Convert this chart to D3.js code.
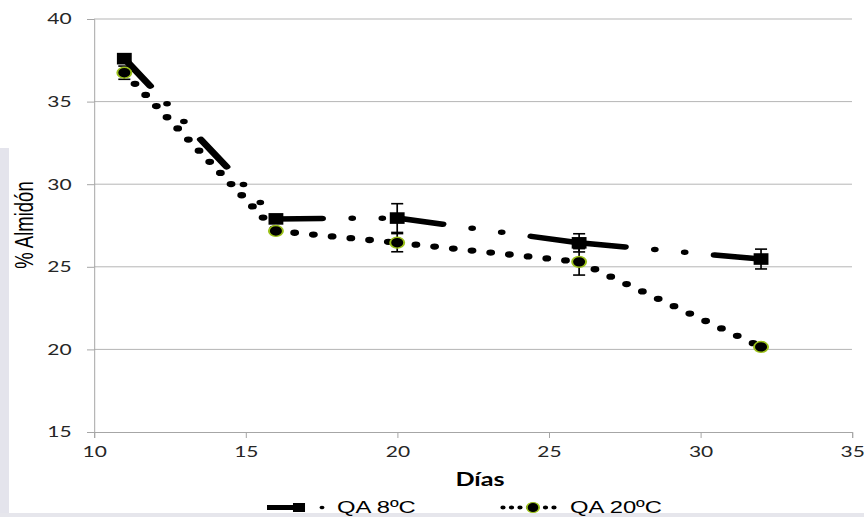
<!DOCTYPE html>
<html>
<head>
<meta charset="utf-8">
<script src="https://cdn.jsdelivr.net/npm/d3@7"></script>
<style>
  body { margin: 0; background: #fff; overflow: hidden; }
  svg { display: block; }
  .tick text { font-family: Lato, "Noto Sans", sans-serif; font-size: 15px; fill: #262626; }
</style>
</head>
<body>
<div class="chart"></div>
<script>
// data
var dias = [11, 16, 20, 26, 32];
var qa8 = [37.6, 27.9, 27.95, 26.45, 25.47];
var qa8Err = [0, 0, 0.87, 0.55, 0.6];
var qa20 = [36.75, 27.17, 26.46, 25.3, 20.15];
var qa20Err = [0.4, 0, 0.55, 0.8, 0];
var xTicks = [10, 15, 20, 25, 30, 35];
var yTicks = [15, 20, 25, 30, 35, 40];
var seriesNames = ["QA 8ºC", "QA 20ºC"];

// the picture is stretched sideways, so draw in a narrower box and let the viewBox stretch it
var K = 1.4;
var svgWidth = 864;
var svgHeight = 517;
var W = svgWidth / K;

var svg = d3.select(".chart")
  .append("svg")
  .attr("width", svgWidth)
  .attr("height", svgHeight)
  .attr("viewBox", `0 0 ${W} ${svgHeight}`)
  .attr("preserveAspectRatio", "none");

// page background bits round the chart
svg.append("rect").attr("x", 0).attr("y", 148).attr("width", 9 / K).attr("height", 369).attr("fill", "#e4e4ec");
svg.append("rect").attr("x", 0).attr("y", 513).attr("width", W).attr("height", 4).attr("fill", "#e6e6ec");

var xScale = d3.scaleLinear().domain([10, 35]).range([94 / K, 852 / K]);
var yScale = d3.scaleLinear().domain([15, 40]).range([432, 19]);

// gridlines
svg.append("g")
  .selectAll("line")
  .data(yTicks.slice(1))
  .enter()
  .append("line")
  .attr("x1", xScale(10))
  .attr("x2", xScale(35))
  .attr("y1", d => yScale(d))
  .attr("y2", d => yScale(d))
  .attr("stroke", "#b5b5b5")
  .attr("stroke-width", 1)
  .attr("vector-effect", "non-scaling-stroke");

// axes
var leftAxis = d3.axisLeft(yScale).tickValues(yTicks).tickSize(7 / K).tickPadding(11);
var bottomAxis = d3.axisBottom(xScale).tickValues(xTicks).tickSize(6).tickPadding(8);

var gy = svg.append("g").attr("transform", `translate(${xScale(10)},0)`).call(leftAxis);
var gx = svg.append("g").attr("transform", `translate(0,${yScale(15)})`).call(bottomAxis);
[gx, gy].forEach(function(g) {
  g.select(".domain").attr("stroke", "#a6a6a6").attr("vector-effect", "non-scaling-stroke");
  g.selectAll(".tick line").attr("stroke", "#a6a6a6").attr("vector-effect", "non-scaling-stroke");
});

// axis titles
svg.append("text")
  .attr("transform", `translate(${33 / K},225) rotate(-90)`)
  .attr("text-anchor", "middle")
  .style("font-family", "'Liberation Sans', Arial, sans-serif")
  .style("font-size", "18.5px")
  .attr("fill", "#000")
  .text("% Almidón");

svg.append("text")
  .attr("x", 480 / K)
  .attr("y", 486)
  .attr("text-anchor", "middle")
  .style("font-family", "Lato, sans-serif")
  .style("font-weight", "bold")
  .style("font-size", "18px")
  .attr("fill", "#000")
  .text("Días");

// series
var rows8 = dias.map((d, i) => ({ x: d, y: qa8[i], e: qa8Err[i] }));
var rows20 = dias.map((d, i) => ({ x: d, y: qa20[i], e: qa20Err[i] }));
var line = d3.line().x(d => xScale(d.x)).y(d => yScale(d.y));

// Excel starts the dash pattern again on each segment
svg.append("g")
  .selectAll("path")
  .data(d3.pairs(rows8))
  .enter()
  .append("path")
  .attr("d", d => line(d))
  .attr("fill", "none")
  .attr("stroke", "#000")
  .attr("stroke-width", 5.5)
  .attr("stroke-linecap", "round")
  .attr("stroke-dasharray", "33,21.5,0,21.5,0,21.5");

svg.append("g")
  .selectAll("path")
  .data(d3.pairs(rows20))
  .enter()
  .append("path")
  .attr("d", d => line(d))
  .attr("fill", "none")
  .attr("stroke", "#000")
  .attr("stroke-width", 6.3)
  .attr("stroke-linecap", "round")
  .attr("stroke-dasharray", "0,13.5");

// error bars
function errorBars(rows) {
  var g = svg.append("g").attr("stroke", "#000").attr("stroke-width", 1.6);
  var r = rows.filter(d => d.e > 0);
  g.selectAll(".v").data(r).enter().append("line")
    .attr("x1", d => xScale(d.x)).attr("x2", d => xScale(d.x))
    .attr("y1", d => yScale(d.y - d.e)).attr("y2", d => yScale(d.y + d.e))
    .attr("stroke-width", 1.2);
  g.selectAll(".t").data(r).enter().append("line")
    .attr("x1", d => xScale(d.x) - 4.3).attr("x2", d => xScale(d.x) + 4.3)
    .attr("y1", d => yScale(d.y + d.e)).attr("y2", d => yScale(d.y + d.e));
  g.selectAll(".b").data(r).enter().append("line")
    .attr("x1", d => xScale(d.x) - 4.3).attr("x2", d => xScale(d.x) + 4.3)
    .attr("y1", d => yScale(d.y - d.e)).attr("y2", d => yScale(d.y - d.e));
}
errorBars(rows8);
errorBars(rows20);

// markers
svg.append("g")
  .selectAll("rect")
  .data(rows8)
  .enter()
  .append("rect")
  .attr("x", d => xScale(d.x) - 5.3)
  .attr("y", d => yScale(d.y) - 5.8)
  .attr("width", 10.6)
  .attr("height", 11.6)
  .attr("fill", "#000");

svg.append("g")
  .selectAll("ellipse")
  .data(rows20)
  .enter()
  .append("ellipse")
  .attr("cx", d => xScale(d.x))
  .attr("cy", d => yScale(d.y))
  .attr("rx", 5)
  .attr("ry", 5.4)
  .attr("fill", "#000")
  .attr("stroke", "#9cc21a")
  .attr("stroke-width", 1.4);

// legend
var legend = svg.append("g");
var ly = 507.5;
legend.append("line")
  .attr("x1", 267 / K).attr("x2", 299 / K).attr("y1", ly).attr("y2", ly)
  .attr("stroke", "#000").attr("stroke-width", 5);
legend.append("rect")
  .attr("x", 299 / K - 4.3).attr("y", ly - 4.5).attr("width", 8.6).attr("height", 9).attr("fill", "#000");
legend.append("circle").attr("cx", 322 / K).attr("cy", ly).attr("r", 1.8).attr("fill", "#000");
legend.append("path")
  .attr("d", `M${503 / K},${ly}H${556 / K}`)
  .attr("stroke", "#000").attr("stroke-width", 3.8)
  .attr("stroke-linecap", "round").attr("stroke-dasharray", "0,6.07");
legend.append("ellipse")
  .attr("cx", 533 / K).attr("cy", ly).attr("rx", 4.4).attr("ry", 5)
  .attr("fill", "#000").attr("stroke", "#9cc21a").attr("stroke-width", 1.2);

legend.selectAll("text")
  .data(seriesNames)
  .enter()
  .append("text")
  .attr("x", (d, i) => [337, 570][i] / K)
  .attr("y", 513)
  .style("font-family", "'Liberation Sans', Arial, sans-serif")
  .style("font-size", "17px")
  .attr("fill", "#000")
  .text(d => d);
</script>
</body>
</html>
